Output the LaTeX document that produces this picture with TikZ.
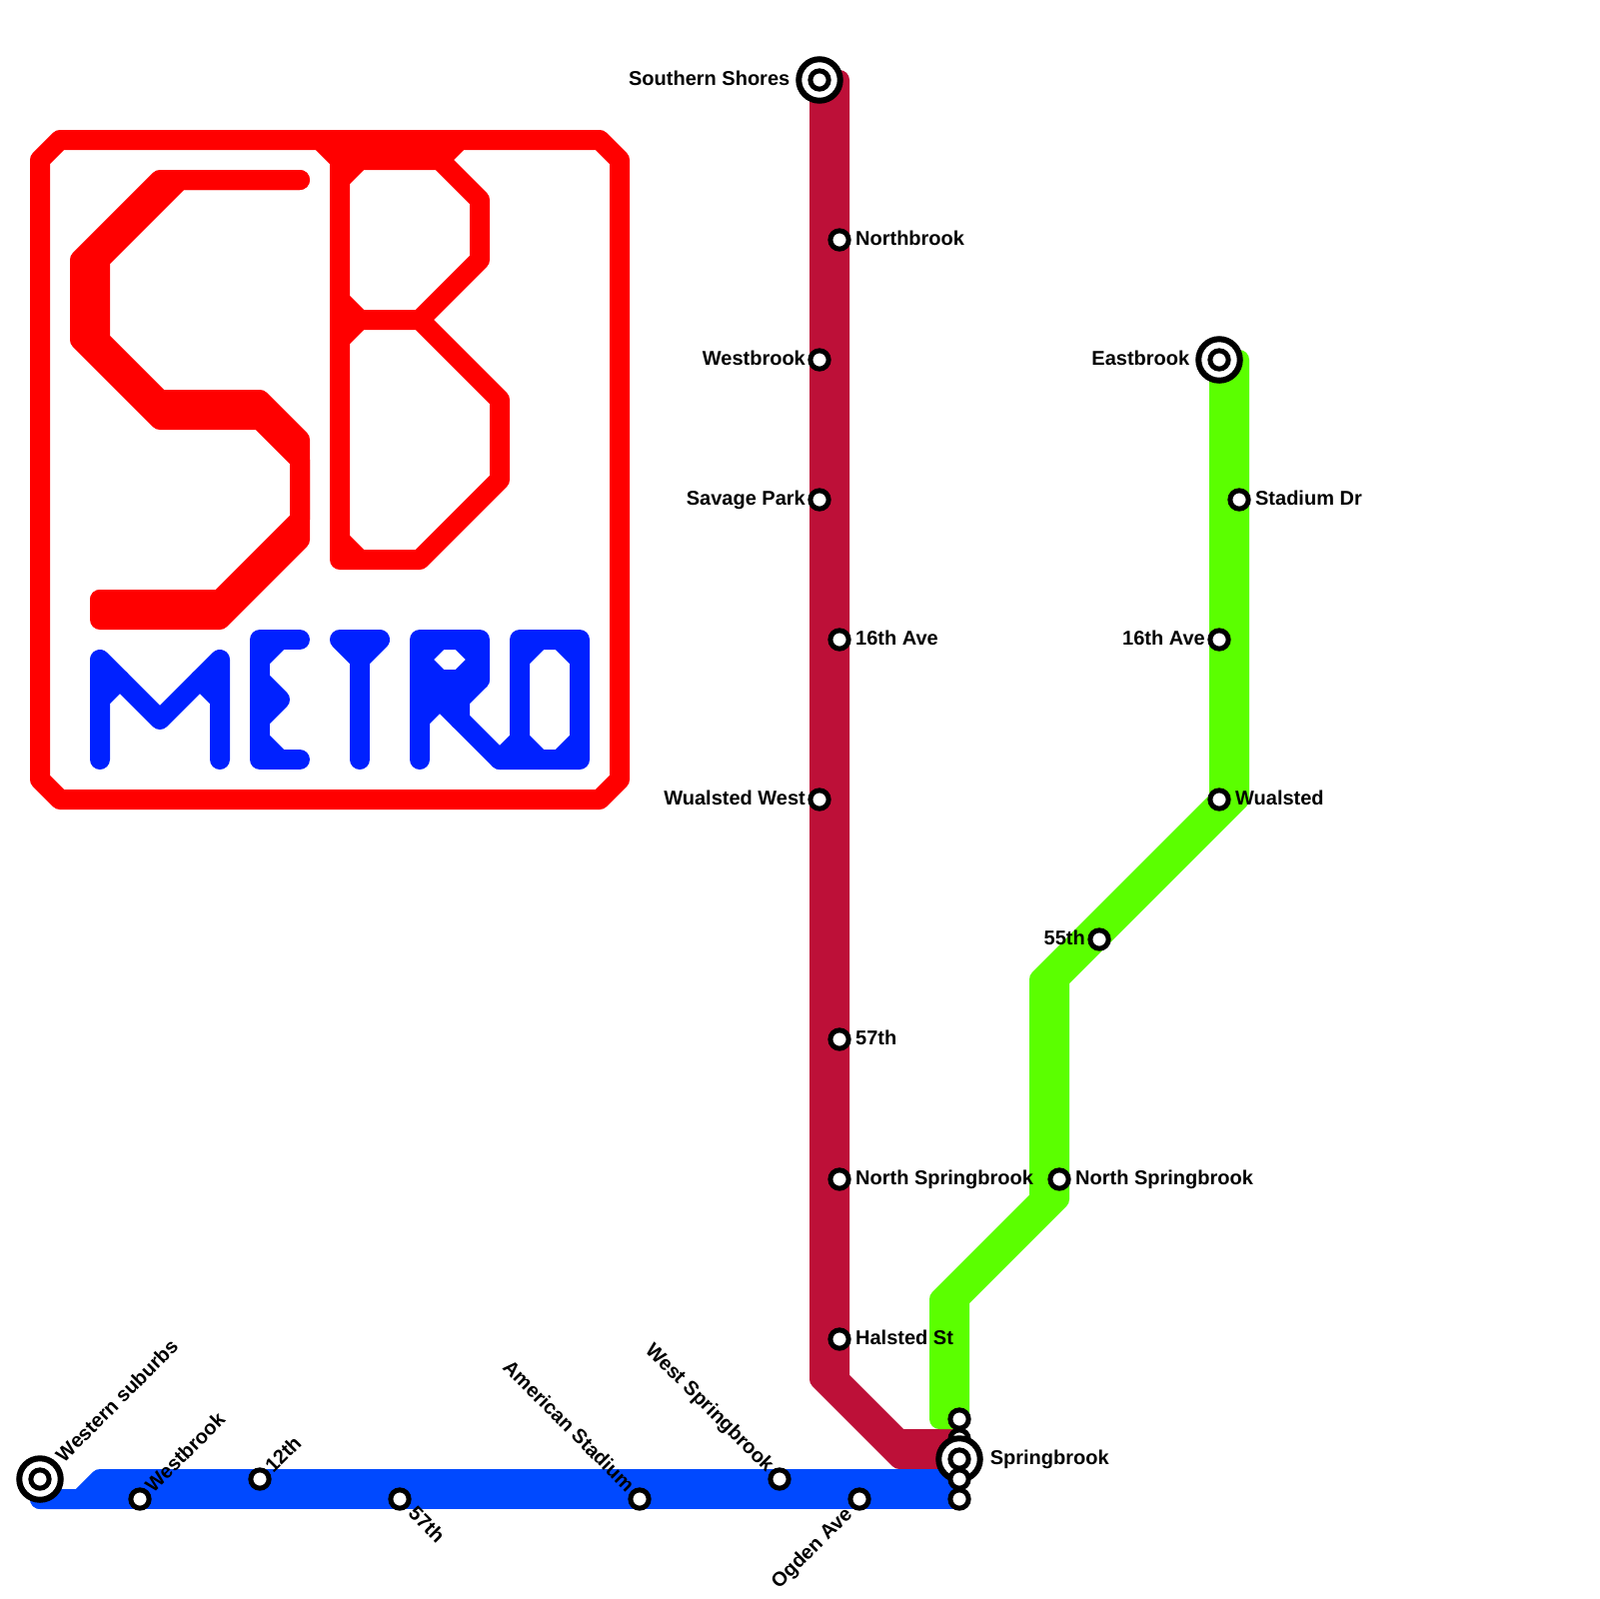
\documentclass[tikz,border=0pt]{standalone}
\usepackage{fontspec}
\setmainfont{Liberation Sans}
\usepackage{xcolor}
\usepackage{tikz}
\usetikzlibrary{positioning, backgrounds}
\definecolor{crimsonline}{HTML}{BD1038}
\definecolor{greenline}{HTML}{5BFF00}
\definecolor{blueline}{HTML}{0049FF}
\definecolor{logored}{HTML}{FF0000}
\definecolor{logoblue}{HTML}{0021FF}
\tikzset{
  x=0.1mm, y=-0.1mm,
  stationtext/.style={
    font=\bfseries\fontsize{5.69}{6.5}\selectfont, inner sep=0pt, outer sep=0pt,
    text height=1.45mm, text depth=0pt
  },
  tagright/.style={stationtext, yshift=0.2mm},
  tagleft/.style={stationtext, yshift=0.2mm},
  tagupright/.style={stationtext, rotate=45, anchor=west, xshift=1.34mm, yshift=0.14mm},
  tagdownright/.style={stationtext, rotate=-45, anchor=west, xshift=1.66mm, yshift=0.14mm},
  tagdownleft/.style={stationtext, rotate=45, anchor=east, xshift=-1.6mm},
  tagupleft/.style={stationtext, rotate=-45, anchor=east, xshift=-1.41mm, yshift=0.21mm},
  station/.style={
    circle, draw=black, fill=white, line width=0.5mm,
    inner sep=0pt, outer sep=0pt, minimum size=1.83mm
  },
  terminal/.style={
    circle, draw=black, fill=white, line width=0.6mm,
    inner sep=0pt, outer sep=0pt, minimum size=4.15mm
  },
  track/.style={line width=2mm, line cap=round, line join=round},
  crimsontrack/.style={track, draw=crimsonline},
  greentrack/.style={track, draw=greenline},
  bluetrack/.style={track, draw=blueline},
  logostroke/.style={track, draw=logored},
  metrostroke/.style={track, draw=logoblue}
}
\begin{document}
\begin{tikzpicture}
  \useasboundingbox (0,0) rectangle (1600,1600);

  % logo
  \draw[logostroke] (40,160) -- (60,140) -- (600,140) -- (620,160) -- (620,780) -- (600,800) -- (60,800) -- (40,780) -- cycle;
  \draw[logostroke] (300,180) -- (160,180) -- (80,260) -- (80,340) -- (160,420) -- (260,420) -- (300,460) -- (300,540) -- (220,620) -- (100,620) -- (100,600);
  \draw[logostroke] (300,180) -- (180,180) -- (100,260) -- (100,340) -- (160,400) -- (260,400) -- (300,440) -- (300,520) -- (220,600) -- (100,600);
  \draw[logostroke] (320,140) -- (340,160) -- (340,560) -- (420,560) -- (500,480) -- (500,400) -- (420,320) -- (360,320) -- (340,300);
  \draw[logostroke] (460,140) -- (440,160) -- (340,160);
  \draw[logostroke] (360,160) -- (340,180);
  \draw[logostroke] (440,160) -- (480,200) -- (480,260) -- (420,320);
  \draw[logostroke] (340,340) -- (360,320);
  \draw[logostroke] (340,540) -- (360,560);
  % M
  \draw[metrostroke] (100,760) -- (100,660) -- (160,720) -- (220,660) -- (220,760);
  \draw[metrostroke] (100,700) -- (120,680);
  \draw[metrostroke] (220,700) -- (200,680);
  % E
  \draw[metrostroke] (300,640) -- (260,640) -- (260,760) -- (300,760);
  \draw[metrostroke] (260,660) -- (280,640);
  \draw[metrostroke] (260,680) -- (280,700) -- (260,720);
  \draw[metrostroke] (260,740) -- (280,760);
  % T
  \draw[metrostroke] (340,640) -- (380,640) -- (360,660) -- (340,640);
  \draw[metrostroke] (360,660) -- (360,760);
  % R
  \draw[metrostroke] (420,760) -- (420,640) -- (480,640) -- (480,680) -- (460,700) -- (460,720);
  \draw[metrostroke] (420,660) -- (440,640);
  \draw[metrostroke] (460,640) -- (480,660) -- (460,680);
  \draw[metrostroke] (420,660) -- (440,680);
  \draw[metrostroke] (420,680) -- (480,680);
  \draw[metrostroke] (420,700) -- (460,700);
  \draw[metrostroke] (420,720) -- (440,700) -- (500,760);
  % O
  \draw[metrostroke] (500,760) -- (580,760) -- (580,640) -- (520,640) -- (520,740) -- (500,760);
  \draw[metrostroke] (520,660) -- (540,640);
  \draw[metrostroke] (560,640) -- (580,660);
  \draw[metrostroke] (580,740) -- (560,760);
  \draw[metrostroke] (540,760) -- (520,740);

  % crimson line
  \node[terminal] (southernshores) at (820,80) {};
  \node[station] (southernshorescore) at (southernshores) {};
  \node[station] (northbrook) at (840,240) {};
  \node[station] (westbrookcrimson) at (820,360) {};
  \node[station] (savagepark) at (820,500) {};
  \node[station] (avecrimson) at (840,640) {};
  \node[station] (wualstedwest) at (820,800) {};
  \node[station] (fiftyseventhcrimson) at (840,1040) {};
  \node[station] (northspringbrookcrimson) at (840,1180) {};
  \node[station] (halsted) at (840,1340) {};
  \coordinate (crimsontop) at (840,80);
  \coordinate (crimsonwestbendA) at (820,1380);
  \coordinate (crimsonwestbendB) at (900,1460);
  \coordinate (crimsoneastbendA) at (840,1380);
  \coordinate (crimsoneastbendB) at (900,1440);

  % green line
  \node[terminal] (eastbrook) at (1220,360) {};
  \node[station] (eastbrookcore) at (eastbrook) {};
  \node[station] (stadiumdr) at (1240,500) {};
  \node[station] (avegreen) at (1220,640) {};
  \node[station] (wualsted) at (1220,800) {};
  \node[station] (fiftyfifth) at (1100,940) {};
  \node[station] (northspringbrookgreen) at (1060,1180) {};
  \coordinate (greentop) at (1240,360);
  \coordinate (greencorner) at (1240,800);
  \coordinate (greenwestbendA) at (1040,980);
  \coordinate (greenwestbendB) at (1040,1200);
  \coordinate (greenwestbendC) at (940,1300);
  \coordinate (greenwestbendD) at (940,1420);
  \coordinate (greeneastbendA) at (1060,980);
  \coordinate (greeneastbendB) at (1060,1200);
  \coordinate (greeneastbendC) at (960,1300);

  % springbrook interchange
  \node[station] (springbrookgreen) at (960,1420) {};
  \node[station] (springbrookcrimson) at (960,1440) {};
  \node[terminal] (springbrook) at (960,1460) {};
  \node[station] (springbrookcore) at (springbrook) {};
  \node[station] (springbrookbluenorth) at (960,1480) {};
  \node[station] (springbrookbluesouth) at (960,1500) {};

  % blue line
  \node[terminal] (westernsuburbs) at (40,1480) {};
  \node[station] (westernsuburbscore) at (westernsuburbs) {};
  \node[station] (westbrookblue) at (140,1500) {};
  \node[station] (twelfth) at (260,1480) {};
  \node[station] (fiftyseventhblue) at (400,1500) {};
  \node[station] (americanstadium) at (640,1500) {};
  \node[station] (westspringbrook) at (780,1480) {};
  \node[station] (ogden) at (860,1500) {};
  \coordinate (bluecorner) at (40,1500);
  \coordinate (bluebendA) at (80,1500);
  \coordinate (bluebendB) at (100,1480);

  \begin{scope}[on background layer]
    \draw[crimsontrack] (southernshores.center) -- (westbrookcrimson.center) -- (savagepark.center) -- (wualstedwest.center) -- (crimsonwestbendA) -- (crimsonwestbendB) -- (springbrook.center);
    \draw[crimsontrack] (crimsontop) -- (northbrook.center) -- (avecrimson.center) -- (fiftyseventhcrimson.center) -- (northspringbrookcrimson.center) -- (halsted.center) -- (crimsoneastbendA) -- (crimsoneastbendB) -- (springbrookcrimson.center);
    \draw[greentrack] (eastbrook.center) -- (avegreen.center) -- (wualsted.center) -- (greenwestbendA) -- (greenwestbendB) -- (greenwestbendC) -- (greenwestbendD) -- (springbrookgreen.center);
    \draw[greentrack] (greentop) -- (stadiumdr.center) -- (greencorner) -- (fiftyfifth.center) -- (greeneastbendA) -- (northspringbrookgreen.center) -- (greeneastbendB) -- (greeneastbendC) -- (springbrookgreen.center);
    \draw[bluetrack] (westernsuburbs.center) -- (bluecorner) -- (bluebendA) -- (bluebendB) -- (twelfth.center) -- (westspringbrook.center) -- (springbrookbluenorth.center);
    \draw[bluetrack] (bluecorner) -- (westbrookblue.center) -- (fiftyseventhblue.center) -- (americanstadium.center) -- (ogden.center) -- (springbrookbluesouth.center);
  \end{scope}

  % labels
  \node[tagleft, left=0.9mm of southernshores] (southernshorestext) {Southern Shores};
  \node[tagright, right=0.7mm of northbrook] (northbrooktext) {Northbrook};
  \node[tagleft, left=0.5mm of westbrookcrimson] (westbrookcrimsontext) {Westbrook};
  \node[tagleft, left=0.5mm of savagepark] (savageparktext) {Savage Park};
  \node[tagright, right=0.7mm of avecrimson] (avecrimsontext) {16th Ave};
  \node[tagleft, left=0.5mm of wualstedwest] (wualstedwesttext) {Wualsted West};
  \node[tagright, right=0.7mm of fiftyseventhcrimson] (fiftyseventhcrimsontext) {57th};
  \node[tagright, right=0.7mm of northspringbrookcrimson] (northspringbrookcrimsontext) {North Springbrook};
  \node[tagright, right=0.7mm of halsted] (halstedtext) {Halsted St};
  \node[tagleft, left=0.9mm of eastbrook] (eastbrooktext) {Eastbrook};
  \node[tagright, right=0.7mm of stadiumdr] (stadiumdrtext) {Stadium Dr};
  \node[tagleft, left=0.5mm of avegreen] (avegreentext) {16th Ave};
  \node[tagright, right=0.7mm of wualsted] (wualstedtext) {Wualsted};
  \node[tagleft, left=0.5mm of fiftyfifth] (fiftyfifthtext) {55th};
  \node[tagright, right=0.7mm of northspringbrookgreen] (northspringbrookgreentext) {North Springbrook};
  \node[tagright, right=1.0mm of springbrook] (springbrooktext) {Springbrook};
  \node[tagupright, xshift=1.5mm] (westernsuburbstext) at (westernsuburbs) {Western suburbs};
  \node[tagupright] (westbrookbluetext) at (westbrookblue) {Westbrook};
  \node[tagupright] (twelfthtext) at (twelfth) {12th};
  \node[tagdownright] (fiftyseventhbluetext) at (fiftyseventhblue) {57th};
  \node[tagupleft] (americanstadiumtext) at (americanstadium) {American Stadium};
  \node[tagupleft] (westspringbrooktext) at (westspringbrook) {West Springbrook};
  \node[tagdownleft] (ogdentext) at (ogden) {Ogden Ave};
\end{tikzpicture}
\end{document}
